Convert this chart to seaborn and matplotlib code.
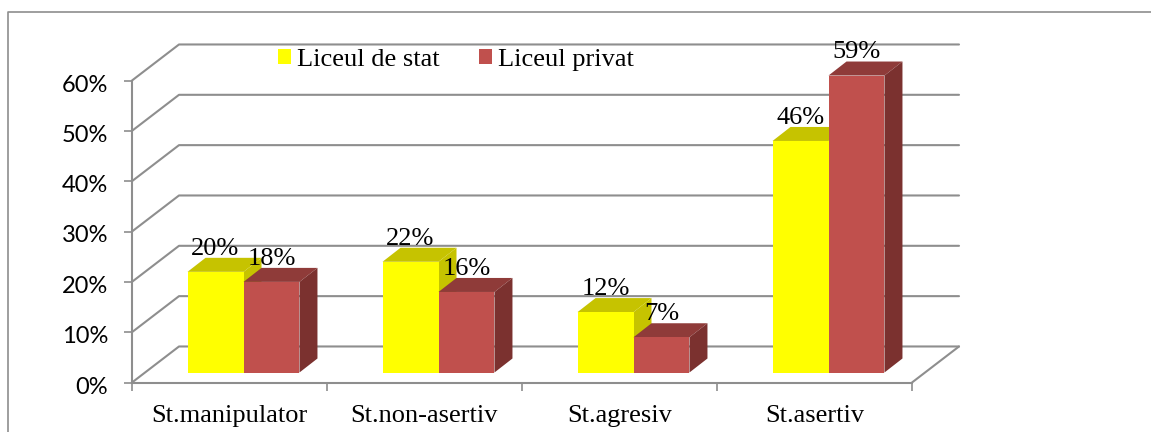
import pandas as pd
import matplotlib.pyplot as plt
import seaborn as sns
from matplotlib.lines import Line2D
from matplotlib.patches import Polygon
from matplotlib.transforms import Affine2D

categories = ['St.manipulator', 'St.non-asertiv', 'St.agresiv', 'St.asertiv']
liceul_stat = [20, 22, 12, 46]
liceul_privat = [18, 16, 7, 59]
series_names = ['Liceul de stat', 'Liceul privat']
y_ticks = [0, 10, 20, 30, 40, 50, 60]

palette = {'Liceul de stat': '#FFFF00', 'Liceul privat': '#C0504D'}
top_colors = {'Liceul de stat': '#C6C300', 'Liceul privat': '#8F3B39'}
side_colors = {'Liceul de stat': '#C6C300', 'Liceul privat': '#7B312F'}
grid_color = '#8E8E8E'

W, H = 1151, 432
df = pd.DataFrame({
    'cat': categories * 2,
    'val': liceul_stat + liceul_privat,
    'serie': [series_names[0]] * 4 + [series_names[1]] * 4,
})

sns.set_style('white')
plt.rcParams['font.family'] = ['Liberation Serif', 'DejaVu Sans']
plt.rcParams['text.color'] = 'black'

fig = plt.figure(figsize=(W / 100, H / 100), dpi=100)
ax = fig.add_axes([132 / W, 1 - 382.5 / H, 780 / W, 302 / H])
sns.barplot(x='cat', y='val', hue='serie', data=df, order=categories, hue_order=series_names,
            palette=palette, width=0.574, gap=0, saturation=1, linewidth=0, ax=ax, zorder=5)
ax.set_xlim(-0.5, 3.5)
ax.set_ylim(0, 60)
ax.set_xlabel('')
ax.set_ylabel('')

# walls: one unit in data is 195 px across and 5.03 px up
wall_dx = 47 / 195
wall_dy = 36 / 5.03
for v in y_ticks:
    ax.plot([-0.5, -0.5 + wall_dx, 3.5 + wall_dx], [v, v + wall_dy, v + wall_dy],
            color=grid_color, lw=1.5, clip_on=False, zorder=1)
ax.plot([3.5, 3.5 + wall_dx], [0, wall_dy], color=grid_color, lw=1.5, clip_on=False, zorder=1)

# fake 3d sides on the bars
shift = Affine2D().translate(14, 10)
depth_x = 18 / 195
depth_y = 14 / 5.03
for container, name in zip(ax.containers, series_names):
    z = 2 if name == series_names[0] else 4
    for bar in container:
        x0 = bar.get_x()
        x1 = x0 + bar.get_width()
        h = bar.get_height()
        bar.set_transform(ax.transData + shift)
        bar.set_zorder(z + 1)
        bar.set_clip_on(False)
        top = [(x0, h), (x1, h), (x1 + depth_x, h + depth_y), (x0 + depth_x, h + depth_y)]
        side = [(x1, 0), (x1 + depth_x, depth_y), (x1 + depth_x, h + depth_y), (x1, h)]
        ax.add_patch(Polygon(top, color=top_colors[name], lw=0, zorder=z, clip_on=False,
                             transform=ax.transData + shift))
        ax.add_patch(Polygon(side, color=side_colors[name], lw=0, zorder=z, clip_on=False,
                             transform=ax.transData + shift))
        ax.annotate(f'{h:.0f}%', (x0 + bar.get_width() / 2, h), xytext=(10, 16),
                    textcoords='offset points', ha='center', va='bottom', fontsize=19,
                    color='black', zorder=8, annotation_clip=False)

sns.despine(ax=ax)
for name in ['left', 'bottom']:
    ax.spines[name].set_color(grid_color)
    ax.spines[name].set_linewidth(1.5)
ax.set_yticks(y_ticks)
ax.set_yticklabels([f'{v}%' for v in y_ticks], family='Lato', fontsize=17, color='black')
ax.tick_params(axis='y', left=True, length=5.8, width=1.2, color=grid_color, pad=11.5)
for label in ax.get_yticklabels():
    label.set_transform(label.get_transform() + Affine2D().translate(0, -2.5))
ax.set_xticks(range(4))
ax.set_xticks([-0.5, 0.5, 1.5, 2.5, 3.5], minor=True)
ax.tick_params(axis='x', which='major', bottom=False, labelsize=19, labelcolor='black', pad=13)
ax.tick_params(axis='x', which='minor', bottom=True, length=5.8, width=1.2, color=grid_color)

handles, labels = ax.get_legend_handles_labels()
ax.legend(handles, labels, ncol=2, frameon=False, fontsize=19, loc='center left',
          bbox_to_anchor=(278 / W, 1 - 60 / H), bbox_transform=fig.transFigure,
          handlelength=0.49, handleheight=0.49, handletextpad=0.23, columnspacing=1.5,
          borderpad=0, borderaxespad=0)

# outer frame of the chart
fig.add_artist(Line2D([8 / W, 8 / W, 1], [0, 1 - 11.5 / H, 1 - 11.5 / H], color=grid_color, lw=1.2))

fig.savefig('out.png', dpi=100)
